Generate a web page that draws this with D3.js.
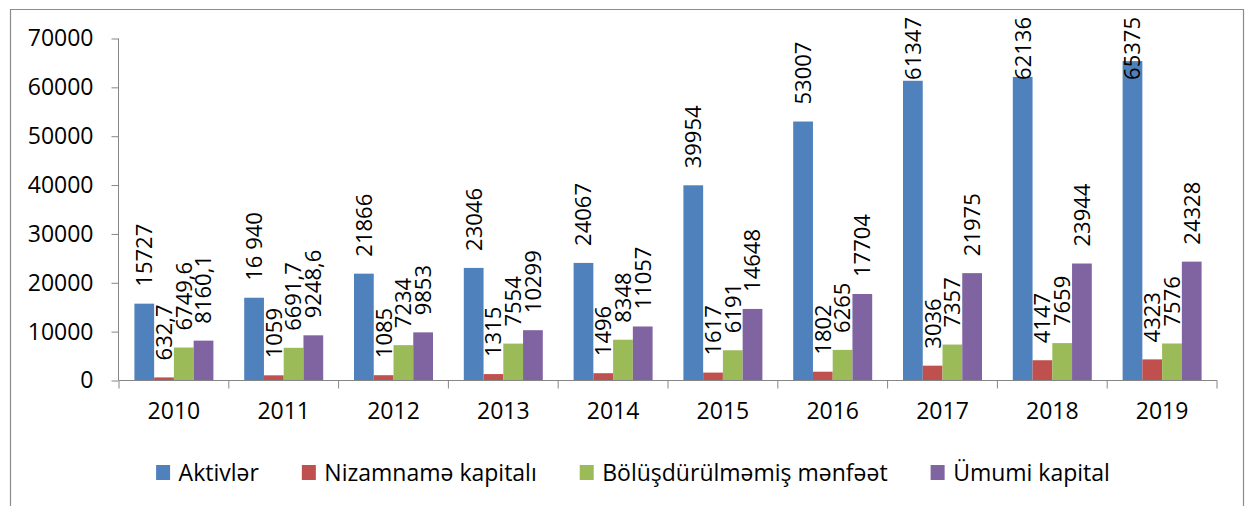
<!DOCTYPE html>
<html>
<head>
<meta charset="utf-8">
<script src="https://cdn.jsdelivr.net/npm/d3@7"></script>
<style>
  body { margin: 0; background: #fff; }
  text { font-family: "Open Sans", sans-serif; fill: #000; }
</style>
</head>
<body>
<div id="chart"></div>
<script>
var w = 1246, h = 506;

// data
var years = ["2010", "2011", "2012", "2013", "2014", "2015", "2016", "2017", "2018", "2019"];
var series = ["Aktivlər", "Nizamnamə kapitalı", "Bölüşdürülməmiş mənfəət", "Ümumi kapital"];
var colors = ["#4F81BD", "#C0504D", "#9BBB59", "#8064A2"];
var aktivler = [15727, 16940, 21866, 23046, 24067, 39954, 53007, 61347, 62136, 65375];
var nizamname = [632.7, 1059, 1085, 1315, 1496, 1617, 1802, 3036, 4147, 4323];
var bolusdurulmemis = [6749.6, 6691.7, 7234, 7554, 8348, 6191, 6265, 7357, 7659, 7576];
var umumi = [8160.1, 9248.6, 9853, 10299, 11057, 14648, 17704, 21975, 23944, 24328];
// label text as printed on the chart
var aktivlerLabels = ["15727", "16 940", "21866", "23046", "24067", "39954", "53007", "61347", "62136", "65375"];
var nizamnameLabels = ["632,7", "1059", "1085", "1315", "1496", "1617", "1802", "3036", "4147", "4323"];
var bolusdurulmemisLabels = ["6749,6", "6691,7", "7234", "7554", "8348", "6191", "6265", "7357", "7659", "7576"];
var umumiLabels = ["8160,1", "9248,6", "9853", "10299", "11057", "14648", "17704", "21975", "23944", "24328"];
var yTicks = [0, 10000, 20000, 30000, 40000, 50000, 60000, 70000];

var values = [aktivler, nizamname, bolusdurulmemis, umumi];
var labels = [aktivlerLabels, nizamnameLabels, bolusdurulmemisLabels, umumiLabels];

var svg = d3.select("#chart").append("svg")
  .attr("width", w)
  .attr("height", h);

// outer frame (bottom edge runs off the picture)
svg.append("path")
  .attr("d", "M10.5," + h + "V9.5H1243.5V" + h)
  .attr("fill", "none")
  .attr("stroke", "#8c8c8c")
  .attr("stroke-width", 1.2);

var x0 = d3.scaleBand().domain(years).range([119, 1217]);
var x1 = d3.scaleBand().domain(series).range([0, x0.bandwidth()])
  .paddingInner(0).paddingOuter(0.78);
var y = d3.scaleLinear().domain([0, 70000]).range([380.5, 38.5]);

// bars
var groups = svg.selectAll("g.year")
  .data(years)
  .enter().append("g")
  .attr("class", "year")
  .attr("transform", function(d) { return "translate(" + x0(d) + ",0)"; });

function cells(d, i) {
  return series.map(function(s, j) {
    return { s: s, v: values[j][i], label: labels[j][i], c: colors[j] };
  });
}

groups.selectAll("rect")
  .data(cells)
  .enter().append("rect")
  .attr("x", function(d) { return x1(d.s); })
  .attr("y", function(d) { return y(d.v); })
  .attr("width", x1.bandwidth())
  .attr("height", function(d) { return y(0) - y(d.v); })
  .attr("fill", function(d) { return d.c; });

// rotated value labels; ones that would run past the top get pinned at the top
var labelTop = 17, labelGap = 17;
function estLen(d) { return d.label.length * 12.8; }
function pinned(d) { return y(d.v) - labelGap - estLen(d) < labelTop; }

groups.selectAll("text.val")
  .data(cells)
  .enter().append("text")
  .attr("class", "val")
  .style("font-size", "22px")
  .attr("dy", "0.36em")
  .attr("text-anchor", function(d) { return pinned(d) ? "end" : "start"; })
  .attr("transform", function(d) {
    var cx = x1(d.s) + x1.bandwidth() / 2;
    var pos = pinned(d) ? labelTop : y(d.v) - labelGap;
    return "translate(" + cx + "," + pos + ") rotate(-90)";
  })
  .text(function(d) { return d.label; });

// Y axis
var yAxis = d3.axisLeft(y).tickValues(yTicks).tickSize(7).tickPadding(18)
  .tickFormat(d3.format("d"));
var gy = svg.append("g")
  .attr("transform", "translate(118.5,0)")
  .call(yAxis);
gy.select(".domain").attr("stroke", "#868686").attr("d", "M0,38.5V380.5");
gy.selectAll(".tick line").attr("stroke", "#868686");
gy.selectAll(".tick text").style("font-size", "23px").style("font-family", "Open Sans");

// X axis
var xAxis = d3.axisBottom(x0).tickSize(0).tickPadding(22);
var gx = svg.append("g")
  .attr("transform", "translate(0,380.5)")
  .call(xAxis);
gx.select(".domain").attr("stroke", "#868686").attr("d", "M119,0H1217");
gx.selectAll(".tick text").style("font-size", "23px").style("font-family", "Open Sans");
gx.selectAll("line.sep")
  .data(years.concat(["end"]))
  .enter().append("line")
  .attr("class", "sep")
  .attr("x1", function(d, i) { return i < years.length ? x0(d) : x0.range()[1]; })
  .attr("x2", function(d, i) { return i < years.length ? x0(d) : x0.range()[1]; })
  .attr("y1", 0)
  .attr("y2", 8)
  .attr("stroke", "#868686");

// legend
var legend = svg.append("g").attr("class", "legend");
var items = legend.selectAll("g")
  .data(series)
  .enter().append("g");
items.append("rect")
  .attr("y", 465)
  .attr("width", 14)
  .attr("height", 15)
  .attr("fill", function(d, i) { return colors[i]; });
items.append("text")
  .attr("x", 22.5)
  .attr("y", 481)
  .style("font-size", "23px")
  .text(function(d) { return d; });

var lx = 0;
items.each(function() {
  var g = d3.select(this);
  g.attr("transform", "translate(" + lx + ",0)");
  lx += 22.5 + g.select("text").node().getComputedTextLength() + 43;
});
var legendW = lx - 43;
legend.attr("transform", "translate(" + (633 - legendW / 2) + ",0)");
</script>
</body>
</html>
